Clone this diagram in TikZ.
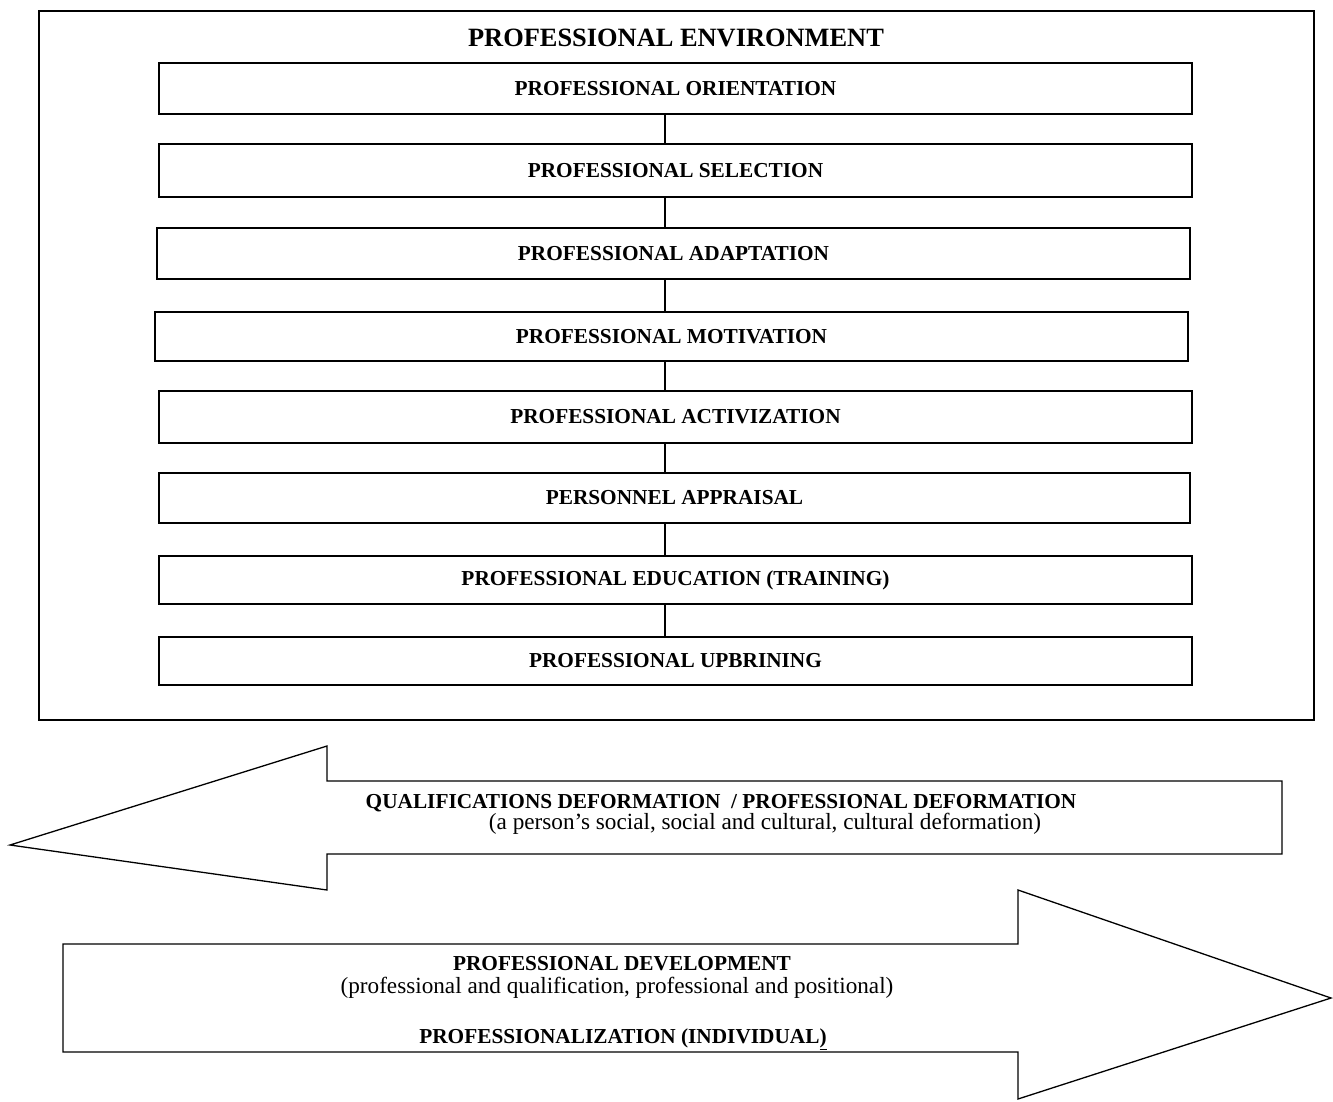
\documentclass[tikz,border=0pt]{standalone}
\usepackage{fontspec}
\setmainfont{Liberation Serif}
\begin{document}
\begin{tikzpicture}[x=1pt,y=-1pt,
  frame/.style={draw,line width=1.3pt},
  stagebox/.style={draw,line width=1.3pt,inner sep=0pt,minimum width=1033pt,
    font=\bfseries\fontsize{21.3}{25}\selectfont},
  link/.style={line width=1.2pt},
  boldline/.style={anchor=base,inner sep=0pt,font=\bfseries\fontsize{21.3}{25}\selectfont},
  plainline/.style={anchor=base,inner sep=0pt,font=\fontsize{23.2}{27}\selectfont},
  bigarrow/.style={draw,line width=1.3pt,line join=miter}]
\useasboundingbox (0,0) rectangle (1333,1101);
% outer frame
\draw[frame] (39,11) rectangle (1314,720);
\node[anchor=base,inner sep=0pt,font=\bfseries\fontsize{26.4}{31}\selectfont] (title) at (676,46) {PROFESSIONAL ENVIRONMENT};
% stages
\node[stagebox,minimum height=51pt] (b1) at (675.5,88.5) {PROFESSIONAL ORIENTATION};
\node[stagebox,minimum height=53pt] (b2) at (675.5,170.5) {PROFESSIONAL SELECTION};
\node[stagebox,minimum height=51pt] (b3) at (673.5,253.5) {PROFESSIONAL ADAPTATION};
\node[stagebox,minimum height=49pt] (b4) at (671.5,336.5) {PROFESSIONAL MOTIVATION};
\node[stagebox,minimum height=52pt] (b5) at (675.5,417) {PROFESSIONAL ACTIVIZATION};
\node[stagebox,minimum height=50pt,minimum width=1031pt] (b6) at (674.5,498) {PERSONNEL APPRAISAL};
\node[stagebox,minimum height=48pt] (b7) at (675.5,580) {PROFESSIONAL EDUCATION (TRAINING)};
\node[stagebox,minimum height=48pt] (b8) at (675.5,661) {PROFESSIONAL UPBRINING};
\coordinate (cx) at (665,0);
\foreach \a/\b in {b1/b2,b2/b3,b3/b4,b4/b5,b5/b6,b6/b7,b7/b8}
  \draw[link] (\a.south -| cx) -- (\b.north -| cx);
% left arrow
\draw[bigarrow] (10,845) -- (327,746) -- (327,781) -- (1282,781) -- (1282,854)
  -- (327,854) -- (327,890) -- cycle;
\node[boldline] (qd) at (721,808) {QUALIFICATIONS DEFORMATION \ / PROFESSIONAL DEFORMATION};
\node[plainline] (qd2) at (765,829) {(a person’s social, social and cultural, cultural deformation)};
% right arrow
\draw[bigarrow] (63,944) -- (1018,944) -- (1018,890) -- (1331,998) -- (1018,1099)
  -- (1018,1052) -- (63,1052) -- cycle;
\node[boldline] (pd) at (622,970) {PROFESSIONAL DEVELOPMENT};
\node[plainline] (pd2) at (617,993) {(professional and qualification, professional and positional)};
\node[boldline] (pz) at (623,1043) {PROFESSIONALIZATION (INDIVIDUAL\underline{)}};
\end{tikzpicture}
\end{document}
